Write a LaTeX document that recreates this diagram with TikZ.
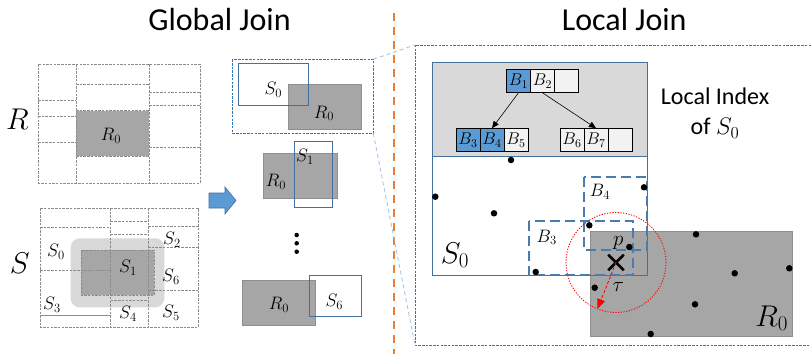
\RequirePackage{fix-cm}
\documentclass[tikz,border=0pt]{standalone}
\usepackage{fontspec}
\setmainfont{Carlito}
\usetikzlibrary{arrows.meta,shapes.misc}

\definecolor{gridgray}{HTML}{8C8C8C}
\definecolor{regiongray}{HTML}{A6A6A6}
\definecolor{regionedge}{HTML}{8F8F8F}
\definecolor{halogray}{HTML}{D9D9D9}
\definecolor{cellfill}{HTML}{F2F2F2}
\definecolor{accentblue}{HTML}{5B9BD5}
\definecolor{edgeblue}{HTML}{41719C}
\definecolor{framebl}{HTML}{2E75B6}
\definecolor{linkblue}{HTML}{9DC3E6}
\definecolor{splitorange}{HTML}{ED7D31}
\definecolor{mbrblue}{HTML}{4A7BAE}

\begin{document}
\begin{tikzpicture}[x=1pt,y=-1pt,
  gridline/.style={draw=gridgray,line width=0.7pt,dash pattern=on 2.5pt off 1.2pt},
  region/.style={fill=regiongray,draw=regionedge,line width=0.7pt},
  mbr/.style={draw=edgeblue,line width=0.9pt},
  mbrdash/.style={draw=mbrblue,line width=2.6pt,dash pattern=on 10pt off 5pt},
  zframe/.style={draw=framebl,line width=0.7pt,dash pattern=on 2.5pt off 1.2pt},
  zlink/.style={draw=linkblue,line width=0.8pt,dash pattern=on 4pt off 3pt},
  pt/.style={circle,fill=black,inner sep=0pt,minimum size=6.5pt},
  cell/.style={draw=black,line width=0.6pt,fill=cellfill,minimum width=24pt,minimum height=23pt,inner sep=0pt,font=\fontsize{17}{17}\selectfont},
  hot/.style={cell,fill=accentblue},
  lab/.style={inner sep=0pt,font=\fontsize{18}{18}\selectfont},
  biglab/.style={inner sep=0pt,font=\fontsize{30}{30}\selectfont},
  title/.style={inner sep=0pt,font=\fontsize{32}{32}\selectfont}
]
\useasboundingbox[fill=white] (0,0) rectangle (811,354);

% ---------- titles and separator ----------
\node[title,anchor=base] (tglobal) at (219.5,30) {Global Join};
\node[title,anchor=base west] (tlocal) at (561.7,30) {Local Join};
\draw[splitorange,line width=2.5pt,dash pattern=on 8pt off 6pt] (394,13) -- (394,354);

% ---------- partitioning of R ----------
\fill[regiongray] (76,110.7) rectangle (149,156);
\draw[gridline] (38,64) rectangle (200,183);
\draw[gridline] (76,64) -- (76,183) (149,64) -- (149,183);
\draw[gridline] (38,100.7) -- (76,100.7) (38,116) -- (76,116) (38,142.3) -- (76,142.3);
\draw[gridline] (76,84.3) -- (149,84.3) (76,110.7) -- (149,110.7) (76,156) -- (149,156);
\draw[gridline] (149,92.7) -- (200,92.7) (149,105) -- (200,105) (149,147.7) -- (200,147.7);
\node[biglab] (labR) at (17.5,119) {$R$};
\node[lab] (gR0) at (111,136) {$R_0$};

% ---------- partitioning of S ----------
\fill[halogray,rounded corners=9pt] (70.7,238.3) rectangle (164.3,307.3);
\fill[regiongray] (81,250) rectangle (154.3,295);
\draw[gridline] (81,250) rectangle (154.3,295);
\draw[gridline] (40,208) rectangle (198,327);
\draw[gridline] (110.7,208) -- (110.7,327) (148,208) -- (148,327);
\draw[gridline] (40,227.7) -- (110.7,227.7) (40,270.3) -- (110.7,270.3);
\draw[gridgray,line width=1pt] (40,315.3) -- (110.7,315.3);
\draw[gridline] (110.7,221.7) -- (148,221.7) (110.7,234.3) -- (148,234.3) (110.7,300.7) -- (148,300.7);
\draw[gridline] (148,226.7) -- (198,226.7) (148,247.3) -- (198,247.3) (148,290) -- (198,290);
\node[biglab] (labS) at (19.7,263.3) {$S$};
\node[lab] (gS0) at (56,251.7) {$S_0$};
\node[lab] (gS1) at (128,268) {$S_1$};
\node[lab] (gS2) at (172,240) {$S_2$};
\node[lab] (gS6) at (171,277) {$S_6$};
\node[lab] (gS3) at (52,305) {$S_3$};
\node[lab] (gS4) at (128,314) {$S_4$};
\node[lab] (gS5) at (171,312.7) {$S_5$};

% ---------- block arrow ----------
\draw[fill=accentblue,draw=edgeblue,line width=0.6pt]
  (209,193) -- (225,193) -- (225,187) -- (236,200.5) -- (225,214) -- (225,208) -- (209,208) -- cycle;

% ---------- candidate pairs ----------
\draw[zframe] (232.3,59.3) rectangle (373.3,133.3);
\coordinate (zne) at (373.3,59.3);
\coordinate (zse) at (373.3,133.3);
\fill[white] (238.3,63.3) rectangle (308.7,105);
\draw[region] (288,84.3) rectangle (361.7,129.3);
\draw[mbr] (238.3,63.3) rectangle (308.7,105);
\node[lab] (pS0) at (273.3,90) {$S_0$};
\node[lab] (pR0a) at (324,113.3) {$R_0$};

\draw[region] (263.3,153.3) rectangle (337.3,198.3);
\draw[mbr] (294,141) rectangle (332,207.3);
\node[lab] (pS1) at (305,157) {$S_1$};
\node[lab] (pR0b) at (276,181.7) {$R_0$};

\node[circle,fill=black,inner sep=0pt,minimum size=4.5pt] (e1) at (296.7,235) {};
\node[circle,fill=black,inner sep=0pt,minimum size=4.5pt] (e2) at (296.7,243.3) {};
\node[circle,fill=black,inner sep=0pt,minimum size=4.5pt] (e3) at (296.7,251.7) {};

\draw[region] (242.3,280) rectangle (315.7,325);
\draw[mbr] (309.3,275.7) rectangle (361,316.7);
\node[lab] (pR0c) at (279,305) {$R_0$};
\node[lab] (pS6) at (334.3,301.7) {$S_6$};

% ---------- local join frame ----------
\coordinate (fnw) at (415,45);
\coordinate (fsw) at (415,345);
\draw[zframe] (811,45) -- (fnw) -- (fsw) -- (811,345);
\draw[zlink] (zne) -- (fnw);
\draw[zlink] (zse) -- (fsw);

% partition S0 with its local index
\fill[halogray] (432.3,62.7) rectangle (647.7,156);
\draw[region] (590.7,231.7) rectangle (792.7,336.7);
\draw[mbr] (432.3,62.7) rectangle (647.7,275);
\draw[mbr] (432.3,156) -- (647.7,156);

% R-tree nodes
\node[hot]  (b1) at (518.5,81) {$B_1$};
\node[cell] (b2) at (542.5,81) {$B_2$};
\node[cell] (b0) at (566.5,81) {};
\node[hot]  (b3) at (468,140) {$B_3$};
\node[hot]  (b4) at (492,140) {$B_4$};
\node[cell] (b5) at (516,140) {$B_5$};
\node[cell] (b6) at (572,140) {$B_6$};
\node[cell] (b7) at (596,140) {$B_7$};
\node[cell] (b8) at (620,140) {};
\draw[line width=0.6pt,-{Triangle[length=7pt,width=6pt]}] (b1.south) -- (b4.north);
\draw[line width=0.6pt,-{Triangle[length=7pt,width=6pt]}] (b2.south) -- (b7.north);

\node[inner sep=0pt,align=center,font=\fontsize{24}{30}\selectfont] (idx) at (715,113) {Local Index\\of $S_0$};

% leaf MBRs
\draw[mbrdash] (529,221) rectangle (633,275);
\draw[mbrdash] (584,177) rectangle (647,250);

% points
\foreach \px/\py [count=\i] in {511/160,435.3/196.7,494/213.3,644/187.3,589.3/225.3,535.7/272,629.3/247,594.7/287.7,696/234.3,734.7/273.3,789.3/268.3,695/304.3,650.7/334}
  \node[pt] (d\i) at (\px,\py) {};

% query point and range
\node[cross out,draw=black,line width=2.6pt,minimum size=13pt,inner sep=0pt] (xq) at (616,262.5) {};
\draw[red,line width=0.9pt,dash pattern=on 1.2pt off 1.5pt] (xq.center) circle[radius=50pt];
\coordinate (tautip) at (597.4,309);
\draw[red,line width=0.9pt,dash pattern=on 3pt off 2pt,-{Triangle[length=10pt,width=8pt]}] (xq.center) -- (tautip);

\node[lab] (lB3) at (546.7,237.3) {$B_3$};
\node[lab] (lB4) at (600,191.7) {$B_4$};
\node[inner sep=0pt,font=\fontsize{21}{21}\selectfont] (lp) at (618.3,243.3) {$p$};
\node[inner sep=0pt,font=\fontsize{21}{21}\selectfont] (ltau) at (618.3,286.7) {$\tau$};
\node[biglab] (lS0) at (455,255) {$S_0$};
\node[biglab] (lR0) at (771.7,318.3) {$R_0$};
\end{tikzpicture}
\end{document}
